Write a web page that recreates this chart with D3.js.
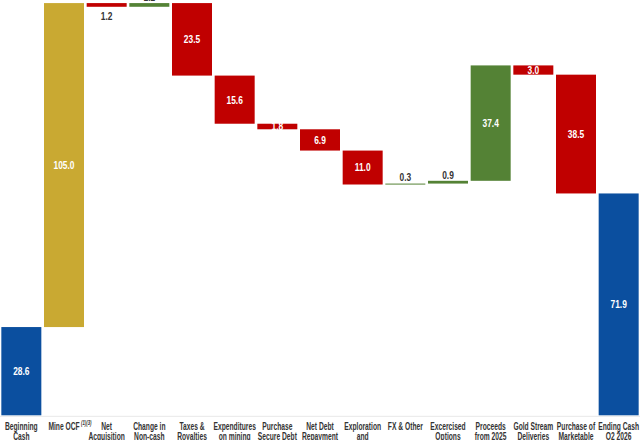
<!DOCTYPE html>
<html><head><meta charset="utf-8">
<script src="https://cdn.jsdelivr.net/npm/d3@7"></script>
<style>
html,body{margin:0;padding:0;background:#fff;overflow:hidden}
svg{display:block}
</style></head>
<body>
<script>
const categories = ["Beginning Cash","Mine OCF","Net Acquisition","Change in Non-cash","Taxes & Royalties","Expenditures on mining","Purchase Secure Debt","Net Debt Repayment","Exploration and","FX & Other","Excercised Options","Proceeds from 2025","Gold Stream Deliveries","Purchase of Marketable","Ending Cash Q2 2026"];
const labelLines = [["Beginning","Cash"],["Mine OCF"],["Net","Acquisition"],["Change in","Non-cash"],["Taxes &","Royalties"],["Expenditures","on mining"],["Purchase","Secure Debt"],["Net Debt","Repayment"],["Exploration","and"],["FX & Other"],["Excercised","Options"],["Proceeds","from 2025"],["Gold Stream","Deliveries"],["Purchase of","Marketable"],["Ending Cash","Q2 2026"]];
const values = [28.6, 105.0, -1.2, 1.2, -23.5, -15.6, -1.8, -6.9, -11.0, 0.3, 0.9, 37.4, -3.0, -38.5, 71.9];
const kinds = ["total","ocf","dec","inc","dec","dec","dec","dec","dec","inc","inc","inc","dec","dec","total"];
const colors = {total:"#0b4f9f", ocf:"#c9a932", dec:"#c00000", inc:"#548235"};

const W = 640, H = 440;
const font = "'Liberation Sans',Arial,sans-serif";
const SXL = 0.67; // condensed look for category labels
const SXV = 0.8;  // condensed look for value labels
const svg = d3.select("body").append("svg").attr("width", W).attr("height", H);

let run = 0;
const data = categories.map((c, i) => {
  let y0, y1;
  if (kinds[i] === "total") { y0 = 0; y1 = values[i]; run = values[i]; }
  else { y0 = run; y1 = run + values[i]; run = y1; }
  return {cat: c, i, v: values[i], kind: kinds[i], lo: Math.min(y0, y1), hi: Math.max(y0, y1)};
});

const x = d3.scaleBand().domain(categories).range([0, W]).paddingInner(0.0625).paddingOuter(0.03125);
const y = d3.scaleLinear().domain([0, 134.6]).range([415.3, 0]);

svg.append("line").attr("x1", 0).attr("x2", W).attr("y1", y(0) + 1).attr("y2", y(0) + 1)
  .attr("stroke", "#e8e8e8").attr("stroke-width", 1);

svg.append("g").selectAll("rect").data(data).join("rect")
  .attr("x", d => x(d.cat)).attr("width", x.bandwidth())
  .attr("y", d => y(d.hi)).attr("height", d => Math.max(1, y(d.lo) - y(d.hi)))
  .attr("fill", d => colors[d.kind]);

const fmt = d3.format(".1f");
svg.append("g").selectAll("text").data(data).join("text")
  .attr("transform", d => {
    const inside = Math.abs(d.v) >= 1.5;
    let yy;
    if (inside) yy = (y(d.hi) + y(d.lo)) / 2;
    else if (d.kind === "dec") yy = y(d.lo) + 9;
    else yy = y(d.hi) - 6;
    return `translate(${x(d.cat) + x.bandwidth() / 2},${yy}) scale(${SXV},1)`;
  })
  .attr("text-anchor", "middle").attr("dominant-baseline", "central")
  .attr("font-family", font).attr("font-weight", "bold").attr("font-size", 10.5)
  .attr("fill", d => Math.abs(d.v) >= 1.5 ? "#ffffff" : "#333333")
  .text(d => fmt(Math.abs(d.v)));

const lg = svg.append("g");
data.forEach((d, i) => {
  const cx = x(d.cat) + x.bandwidth() / 2;
  const g = lg.append("g").attr("transform", `translate(${cx},430) scale(${SXL},1)`);
  const t = g.append("text").attr("x", 0).attr("y", 0)
    .attr("text-anchor", "middle").attr("font-family", font).attr("font-weight", "bold")
    .attr("font-size", 10).attr("fill", "#333333");
  labelLines[i].forEach((ln, j) => {
    t.append("tspan").attr("x", 0).attr("dy", j === 0 ? 0 : 10.3).text(ln);
  });
  if (d.kind === "ocf") {
    const len = t.node().getComputedTextLength();
    g.append("text").attr("x", len / 2 + 2).attr("y", -5.5)
      .attr("font-family", font).attr("font-weight", "bold").attr("font-style", "italic")
      .attr("font-size", 6.5).attr("fill", "#333333").text("(1)(3)");
  }
});
</script>
</body></html>
